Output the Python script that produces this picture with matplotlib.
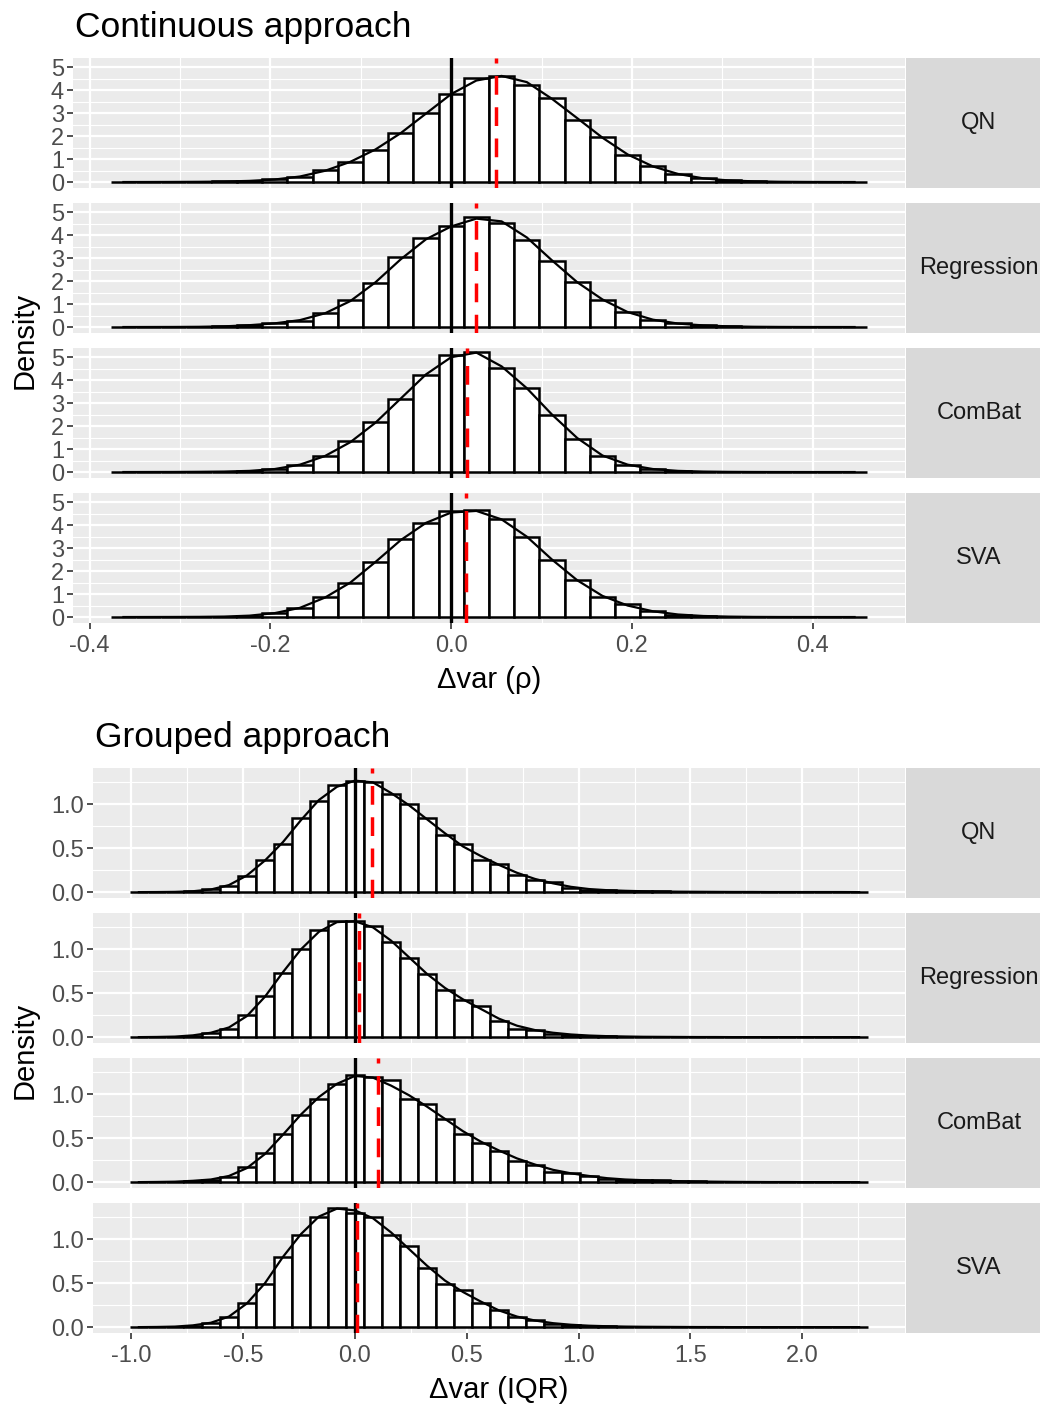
import matplotlib
matplotlib.use("Agg")
import matplotlib.pyplot as plt
import numpy as np
from matplotlib.ticker import FixedLocator

plt.rcParams['font.family'] = ['Liberation Sans', 'DejaVu Sans']

methods = ['QN', 'Regression', 'ComBat', 'SVA']

# continuous approach: 30 bins, centred on k * width, k = -13..16
cont_width = 0.0279
cont_k = np.arange(-13, 17)
cont_hist = {
    'QN': [0, 0.003, 0.008, 0.015, 0.03, 0.05, 0.12, 0.24, 0.51, 0.88, 1.40, 2.12, 3.01, 3.85, 4.55,
           4.60, 4.21, 3.67, 2.71, 1.95, 1.18, 0.68, 0.34, 0.16, 0.07, 0.03, 0.012, 0.005, 0.002, 0.001],
    'Regression': [0, 0.002, 0.005, 0.01, 0.03, 0.08, 0.18, 0.25, 0.63, 1.16, 1.90, 3.05, 3.86, 4.39, 4.79,
                   4.54, 3.81, 2.89, 1.97, 1.18, 0.65, 0.30, 0.17, 0.07, 0.03, 0.012, 0.005, 0.002, 0.001, 0],
    'ComBat': [0, 0.002, 0.005, 0.01, 0.02, 0.04, 0.13, 0.31, 0.71, 1.33, 2.18, 3.20, 4.21, 5.09, 5.24,
               4.51, 3.68, 2.50, 1.45, 0.70, 0.31, 0.12, 0.05, 0.02, 0.008, 0.003, 0.001, 0, 0, 0],
    'SVA': [0, 0.002, 0.005, 0.01, 0.015, 0.05, 0.18, 0.40, 0.88, 1.50, 2.38, 3.40, 4.10, 4.60, 4.64,
            4.28, 3.47, 2.48, 1.60, 0.88, 0.55, 0.25, 0.10, 0.04, 0.015, 0.005, 0.002, 0.001, 0, 0],
}
cont_dens = {
    'QN': [0, 0.002, 0.005, 0.01, 0.02, 0.05, 0.11, 0.24, 0.49, 0.88, 1.42, 2.13, 2.98, 3.83, 4.42,
           4.62, 4.35, 3.62, 2.78, 1.93, 1.20, 0.68, 0.35, 0.16, 0.07, 0.03, 0.012, 0.005, 0.002, 0],
    'Regression': [0, 0.002, 0.004, 0.01, 0.03, 0.08, 0.16, 0.30, 0.60, 1.13, 1.95, 2.95, 3.82, 4.38, 4.72,
                   4.60, 3.90, 2.90, 1.95, 1.20, 0.65, 0.32, 0.15, 0.07, 0.03, 0.012, 0.005, 0.002, 0.001, 0],
    'ComBat': [0, 0.002, 0.004, 0.01, 0.02, 0.05, 0.13, 0.32, 0.70, 1.30, 2.15, 3.20, 4.25, 5.00, 5.20,
               4.60, 3.65, 2.50, 1.48, 0.72, 0.32, 0.13, 0.05, 0.02, 0.008, 0.003, 0.001, 0, 0, 0],
    'SVA': [0, 0.002, 0.004, 0.008, 0.02, 0.06, 0.17, 0.40, 0.85, 1.50, 2.40, 3.35, 4.10, 4.55, 4.62,
            4.25, 3.50, 2.50, 1.60, 0.92, 0.50, 0.25, 0.11, 0.045, 0.018, 0.006, 0.002, 0.001, 0, 0],
}
cont_means = [0.050, 0.028, 0.018, 0.016]

# grouped approach: 41 bins, k = -12..28
grp_width = 0.0805
grp_k = np.arange(-12, 29)
grp_hist = {
    'QN': [0, .001, .003, .008, .03, .07, .18, .37, .55, .84, 1.04, 1.22, 1.27, 1.26, 1.12, 1.0, .85, .65,
           .55, .37, .32, .20, .14, .11, .05, .027, .02, .015, .01, .008, .005, .004, .003, .002, .002,
           .001, .001, .001, .001, .001, .001],
    'Regression': [0, .001, .004, .01, .045, .095, .25, .47, .73, 1.0, 1.22, 1.32, 1.32, 1.27, 1.08, .90,
                   .72, .54, .42, .35, .18, .095, .076, .038, .027, .015, .01, .006, .004, .003, .002,
                   .001, 0, 0, 0, 0, 0, 0, 0, 0, 0],
    'ComBat': [0, .001, .003, .008, .02, .06, .17, .33, .55, .77, .95, 1.12, 1.22, 1.20, 1.16, .95, .89,
               .72, .55, .45, .35, .24, .20, .11, .10, .07, .034, .027, .025, .02, .01, .01, .005, .003,
               .002, .001, .001, 0, 0, 0, 0],
    'SVA': [0, .002, .004, .01, .045, .11, .27, .49, .80, 1.05, 1.25, 1.36, 1.30, 1.26, 1.05, .92, .67,
            .49, .42, .27, .19, .11, .076, .04, .026, .015, .01, .006, .004, .003, .002, .001, 0, 0, 0,
            0, 0, 0, 0, 0, 0],
}
grp_dens = {
    'QN': [0, .001, .003, .01, .03, .08, .19, .36, .57, .82, 1.05, 1.20, 1.27, 1.25, 1.13, .99, .83, .67,
           .52, .41, .31, .22, .15, .10, .06, .035, .022, .015, .01, .007, .005, .004, .003, .002, .002,
           .001, .001, .001, .001, .001, 0],
    'Regression': [0, .002, .006, .02, .05, .11, .24, .46, .74, 1.0, 1.20, 1.31, 1.32, 1.25, 1.10, .91,
                   .72, .56, .43, .32, .21, .13, .08, .05, .03, .018, .011, .007, .004, .003, .002,
                   .001, .001, 0, 0, 0, 0, 0, 0, 0, 0],
    'ComBat': [0, .002, .005, .015, .03, .07, .16, .32, .54, .77, .97, 1.12, 1.21, 1.19, 1.10, .99, .86,
               .72, .58, .46, .36, .27, .20, .14, .10, .07, .045, .03, .022, .016, .011, .007, .005,
               .003, .002, .001, .001, 0, 0, 0, 0],
    'SVA': [0, .002, .006, .02, .05, .12, .27, .50, .80, 1.06, 1.26, 1.35, 1.33, 1.24, 1.08, .89, .70,
            .53, .40, .29, .19, .12, .075, .045, .027, .016, .01, .006, .004, .003, .002, .001, .001,
            0, 0, 0, 0, 0, 0, 0, 0],
}
grp_means = [0.077, 0.018, 0.103, 0.009]

W, H = 1040, 1406
fig = plt.figure(figsize=(W / 100, H / 100), dpi=100)


def add_ax(x0, y0, x1, y1):
    return fig.add_axes([x0 / W, 1 - y1 / H, (x1 - x0) / W, (y1 - y0) / H])


def expand(lo, hi, f=0.05):
    d = (hi - lo) * f
    return lo - d, hi + d


def draw_panel(ax, centers, width, heights, dens, mean, ylim, xmaj, xmin, ymaj, ymin, ylab, show_x, xlab):
    ax.set_facecolor('#EBEBEB')
    for s in ax.spines.values():
        s.set_visible(False)
    ax.set_xlim(*expand(centers[0] - width / 2, centers[-1] + width / 2))
    ax.set_ylim(*ylim)
    ax.xaxis.set_major_locator(FixedLocator(xmaj))
    ax.xaxis.set_minor_locator(FixedLocator(xmin))
    ax.yaxis.set_major_locator(FixedLocator(ymaj))
    ax.yaxis.set_minor_locator(FixedLocator(ymin))
    ax.set_yticklabels(ylab)
    ax.set_axisbelow(True)
    ax.grid(which='major', color='white', linewidth=1.6)
    ax.grid(which='minor', color='white', linewidth=0.8)
    ax.bar(centers, heights, width=width, color='white', edgecolor='black', linewidth=1.8, zorder=2)
    ax.plot(centers, dens, color='black', linewidth=1.6, zorder=3)
    ax.axvline(0, color='black', linewidth=2.4, zorder=4)
    ax.axvline(mean, color='red', linewidth=2.5, linestyle=(0, (5.4, 3.6)), zorder=5)
    ax.tick_params(which='minor', length=0)
    ax.tick_params(which='major', length=4.5, width=1.2, color='#333333', labelcolor='#4D4D4D',
                   labelsize=17, pad=2)
    ax.tick_params(axis='x', pad=4)
    if show_x:
        ax.set_xticklabels(xlab)
    else:
        ax.tick_params(axis='x', which='both', length=0, labelbottom=False)


def draw_strip(y0, y1, label):
    sax = add_ax(906, y0, 1052, y1)
    sax.set_facecolor('#D9D9D9')
    for s in sax.spines.values():
        s.set_visible(False)
    sax.set_xticks([])
    sax.set_yticks([])
    sax.text(0.5, 0.5, label, transform=sax.transAxes, ha='center', va='center',
             fontsize=17, color='#1A1A1A')


# ---- Continuous approach ----
cont_centers = cont_k * cont_width
cont_tops = [58, 203, 348, 493]
for i, m in enumerate(methods):
    y0 = cont_tops[i]
    ax = add_ax(73, y0, 905, y0 + 130)
    draw_panel(ax, cont_centers, cont_width, cont_hist[m], cont_dens[m], cont_means[i],
               (-0.26, 5.40), [-0.4, -0.2, 0.0, 0.2, 0.4], [-0.3, -0.1, 0.1, 0.3],
               [0, 1, 2, 3, 4, 5], [0.5, 1.5, 2.5, 3.5, 4.5], ['0', '1', '2', '3', '4', '5'],
               i == 3, ['-0.4', '-0.2', '0.0', '0.2', '0.4'])
    draw_strip(y0, y0 + 130, m)

fig.text(75 / W, 1 - 37 / H, 'Continuous approach', fontsize=25.5, ha='left', va='baseline')
fig.text(25 / W, 1 - 340 / H, 'Density', fontsize=21, rotation=90, ha='center', va='center')
fig.text(489 / W, 1 - 688 / H, 'Δvar (ρ)', fontsize=21, ha='center', va='baseline')

# ---- Grouped approach ----
grp_centers = grp_k * grp_width
grp_tops = [768, 913, 1058, 1203]
for i, m in enumerate(methods):
    y0 = grp_tops[i]
    ax = add_ax(93, y0, 905, y0 + 130)
    draw_panel(ax, grp_centers, grp_width, grp_hist[m], grp_dens[m], grp_means[i],
               (-0.067, 1.414), [-1.0, -0.5, 0.0, 0.5, 1.0, 1.5, 2.0],
               [-0.75, -0.25, 0.25, 0.75, 1.25, 1.75, 2.25],
               [0.0, 0.5, 1.0], [0.25, 0.75, 1.25], ['0.0', '0.5', '1.0'],
               i == 3, ['-1.0', '-0.5', '0.0', '0.5', '1.0', '1.5', '2.0'])
    draw_strip(y0, y0 + 130, m)

fig.text(95 / W, 1 - 747 / H, 'Grouped approach', fontsize=25.5, ha='left', va='baseline')
fig.text(25 / W, 1 - 1050 / H, 'Density', fontsize=21, rotation=90, ha='center', va='center')
fig.text(499 / W, 1 - 1398 / H, 'Δvar (IQR)', fontsize=21, ha='center', va='baseline')

fig.savefig('out.png', dpi=100, facecolor='white')
